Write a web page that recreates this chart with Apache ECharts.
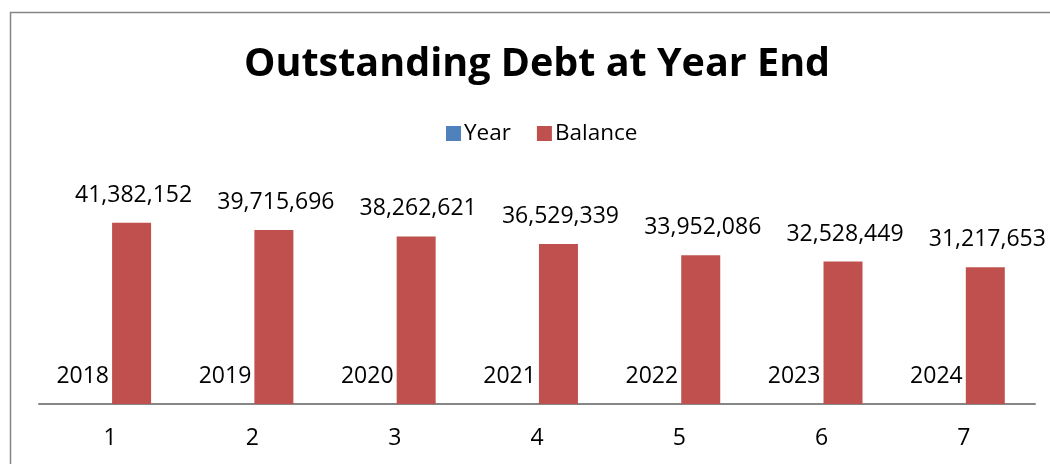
<!DOCTYPE html>
<html>
<head>
<meta charset="utf-8">
<script src="https://cdn.jsdelivr.net/npm/echarts@6/dist/echarts.min.js"></script>
<style>
  html, body { margin: 0; padding: 0; background: #fff; }
  #chart { width: 1050px; height: 464px; }
</style>
</head>
<body>
<div id="chart"></div>
<script>
// Debt schedule: period number, calendar year and outstanding balance at year end
const periods = ['1', '2', '3', '4', '5', '6', '7'];
const years = [2018, 2019, 2020, 2021, 2022, 2023, 2024];
const balances = [41382152, 39715696, 38262621, 36529339, 33952086, 32528449, 31217653];

const FONT = '"Open Sans", "Liberation Sans", sans-serif';
const fmt = v => v.toLocaleString('en-US');

const chart = echarts.init(document.getElementById('chart'), null, { renderer: 'canvas' });

chart.setOption({
  animation: false,
  backgroundColor: '#ffffff',
  title: {
    text: 'Outstanding Debt at Year End',
    left: 239,
    top: 40,
    textStyle: { fontFamily: FONT, fontSize: 39.5, fontWeight: 'bold', color: '#000' }
  },
  legend: {
    data: ['Year', 'Balance'],
    top: 117,
    left: 441,
    itemWidth: 15,
    itemHeight: 15,
    itemGap: 26,
    icon: 'rect',
    textStyle: { fontFamily: FONT, fontSize: 22.5, color: '#000', padding: [0, 0, 0, -2] }
  },
  grid: { left: 39, right: 15, top: 185, bottom: 60 },
  xAxis: {
    type: 'category',
    data: periods,
    axisLine: { lineStyle: { color: '#868686', width: 2 } },
    axisTick: { show: false },
    axisLabel: { fontFamily: FONT, fontSize: 23, color: '#000', margin: 23 }
  },
  yAxis: {
    type: 'value',
    min: 0,
    max: 50000000,
    show: false,
    splitLine: { show: false }
  },
  series: [
    {
      name: 'Year',
      type: 'bar',
      data: years,
      barWidth: 39,
      barGap: '10%',
      itemStyle: { color: '#4F81BD' },
      label: {
        show: true,
        position: 'top',
        distance: 16,
        offset: [-6, 0],
        fontFamily: FONT,
        fontSize: 23,
        color: '#000',
        formatter: p => String(p.value)
      }
    },
    {
      name: 'Balance',
      type: 'bar',
      data: balances,
      barWidth: 39,
      itemStyle: { color: '#C0504D' },
      label: {
        show: true,
        position: 'top',
        distance: 16,
        offset: [2, 0],
        fontFamily: FONT,
        fontSize: 23,
        color: '#000',
        formatter: p => fmt(p.value)
      }
    }
  ],
  graphic: [
    {
      type: 'rect',
      left: 8,
      top: 10,
      shape: { width: 1100, height: 500 },
      style: { fill: 'none', stroke: '#868686', lineWidth: 1.5 },
      silent: true
    }
  ]
});
</script>
</body>
</html>
